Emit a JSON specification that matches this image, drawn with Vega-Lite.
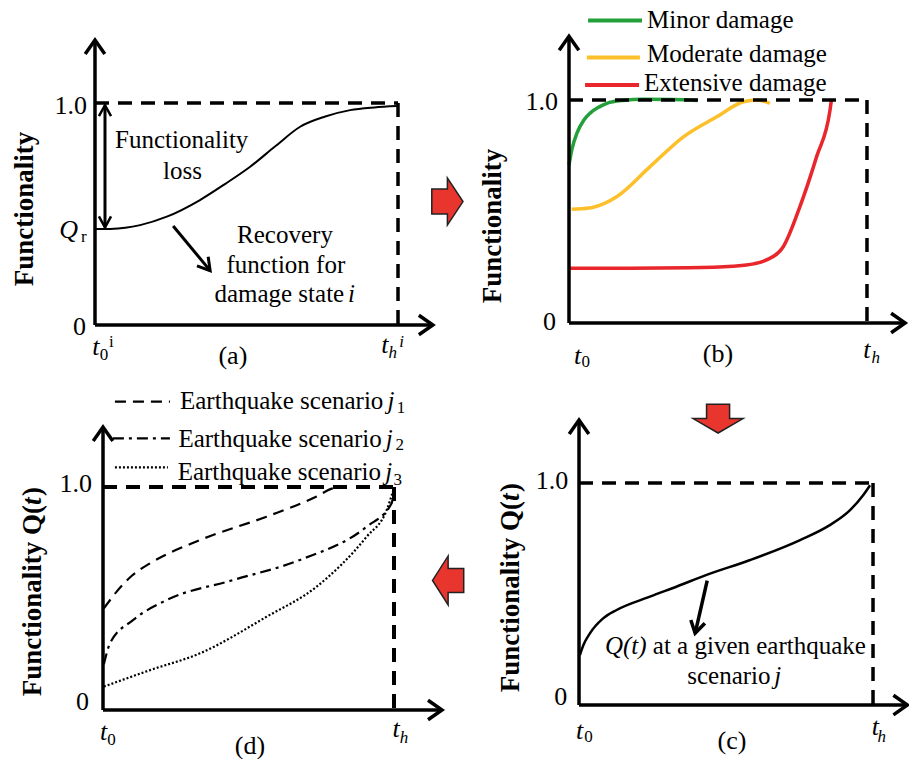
{
  "$schema": "https://vega.github.io/schema/vega-lite/v6.json",
  "padding": 0,
  "background": "white",
  "config": {"view": {"stroke": null}, "font": "Liberation Serif", "text": {"font": "Liberation Serif", "baseline": "middle", "color": "black"}},
  "datasets": {
    "curves": [
      {"panel": "a", "series": "i", "t": 0.0, "q": 0.432},
      {"panel": "a", "series": "i", "t": 0.05, "q": 0.433},
      {"panel": "a", "series": "i", "t": 0.1, "q": 0.438},
      {"panel": "a", "series": "i", "t": 0.149, "q": 0.45},
      {"panel": "a", "series": "i", "t": 0.237, "q": 0.488},
      {"panel": "a", "series": "i", "t": 0.3465, "q": 0.563},
      {"panel": "a", "series": "i", "t": 0.43, "q": 0.636},
      {"panel": "a", "series": "i", "t": 0.512, "q": 0.713},
      {"panel": "a", "series": "i", "t": 0.595, "q": 0.805},
      {"panel": "a", "series": "i", "t": 0.677, "q": 0.893},
      {"panel": "a", "series": "i", "t": 0.76, "q": 0.939},
      {"panel": "a", "series": "i", "t": 0.842, "q": 0.968},
      {"panel": "a", "series": "i", "t": 0.922, "q": 0.98},
      {"panel": "a", "series": "i", "t": 0.996, "q": 0.986},
      {"panel": "b", "series": "Minor damage", "t": 0.0, "q": 0.709},
      {"panel": "b", "series": "Minor damage", "t": 0.01, "q": 0.78},
      {"panel": "b", "series": "Minor damage", "t": 0.027, "q": 0.852},
      {"panel": "b", "series": "Minor damage", "t": 0.05, "q": 0.91},
      {"panel": "b", "series": "Minor damage", "t": 0.07, "q": 0.94},
      {"panel": "b", "series": "Minor damage", "t": 0.1, "q": 0.968},
      {"panel": "b", "series": "Minor damage", "t": 0.127, "q": 0.985},
      {"panel": "b", "series": "Minor damage", "t": 0.18, "q": 0.998},
      {"panel": "b", "series": "Minor damage", "t": 0.25, "q": 1.003},
      {"panel": "b", "series": "Minor damage", "t": 0.35, "q": 1.002},
      {"panel": "b", "series": "Minor damage", "t": 0.43, "q": 0.998},
      {"panel": "b", "series": "Moderate damage", "t": 0.009, "q": 0.51},
      {"panel": "b", "series": "Moderate damage", "t": 0.04, "q": 0.512},
      {"panel": "b", "series": "Moderate damage", "t": 0.082, "q": 0.519},
      {"panel": "b", "series": "Moderate damage", "t": 0.16, "q": 0.566},
      {"panel": "b", "series": "Moderate damage", "t": 0.272, "q": 0.701},
      {"panel": "b", "series": "Moderate damage", "t": 0.384, "q": 0.835},
      {"panel": "b", "series": "Moderate damage", "t": 0.496, "q": 0.925},
      {"panel": "b", "series": "Moderate damage", "t": 0.585, "q": 0.992},
      {"panel": "b", "series": "Moderate damage", "t": 0.63, "q": 1.0},
      {"panel": "b", "series": "Moderate damage", "t": 0.674, "q": 0.985},
      {"panel": "b", "series": "Extensive damage", "t": 0.0, "q": 0.245},
      {"panel": "b", "series": "Extensive damage", "t": 0.2, "q": 0.246},
      {"panel": "b", "series": "Extensive damage", "t": 0.4, "q": 0.248},
      {"panel": "b", "series": "Extensive damage", "t": 0.55, "q": 0.255},
      {"panel": "b", "series": "Extensive damage", "t": 0.62, "q": 0.265},
      {"panel": "b", "series": "Extensive damage", "t": 0.663, "q": 0.283},
      {"panel": "b", "series": "Extensive damage", "t": 0.719, "q": 0.342},
      {"panel": "b", "series": "Extensive damage", "t": 0.775, "q": 0.522},
      {"panel": "b", "series": "Extensive damage", "t": 0.831, "q": 0.746},
      {"panel": "b", "series": "Extensive damage", "t": 0.876, "q": 0.955},
      {"panel": "b", "series": "Extensive damage", "t": 0.881, "q": 1.003},
      {"panel": "c", "series": "j", "t": 0.003, "q": 0.225},
      {"panel": "c", "series": "j", "t": 0.015, "q": 0.27},
      {"panel": "c", "series": "j", "t": 0.037, "q": 0.323},
      {"panel": "c", "series": "j", "t": 0.08, "q": 0.388},
      {"panel": "c", "series": "j", "t": 0.128, "q": 0.428},
      {"panel": "c", "series": "j", "t": 0.241, "q": 0.488},
      {"panel": "c", "series": "j", "t": 0.335, "q": 0.535},
      {"panel": "c", "series": "j", "t": 0.434, "q": 0.586},
      {"panel": "c", "series": "j", "t": 0.582, "q": 0.653},
      {"panel": "c", "series": "j", "t": 0.752, "q": 0.743},
      {"panel": "c", "series": "j", "t": 0.85, "q": 0.808},
      {"panel": "c", "series": "j", "t": 0.922, "q": 0.878},
      {"panel": "c", "series": "j", "t": 0.967, "q": 0.946},
      {"panel": "c", "series": "j", "t": 0.99, "q": 0.99},
      {"panel": "d", "series": "j1", "t": 0.003, "q": 0.456},
      {"panel": "d", "series": "j1", "t": 0.047, "q": 0.531},
      {"panel": "d", "series": "j1", "t": 0.1, "q": 0.603},
      {"panel": "d", "series": "j1", "t": 0.162, "q": 0.658},
      {"panel": "d", "series": "j1", "t": 0.333, "q": 0.762},
      {"panel": "d", "series": "j1", "t": 0.562, "q": 0.867},
      {"panel": "d", "series": "j1", "t": 0.734, "q": 0.957},
      {"panel": "d", "series": "j1", "t": 0.79, "q": 0.994},
      {"panel": "d", "series": "j1", "t": 0.83, "q": 1.0},
      {"panel": "d", "series": "j2", "t": 0.003, "q": 0.205},
      {"panel": "d", "series": "j2", "t": 0.024, "q": 0.299},
      {"panel": "d", "series": "j2", "t": 0.104, "q": 0.404},
      {"panel": "d", "series": "j2", "t": 0.219, "q": 0.493},
      {"panel": "d", "series": "j2", "t": 0.448, "q": 0.583},
      {"panel": "d", "series": "j2", "t": 0.677, "q": 0.673},
      {"panel": "d", "series": "j2", "t": 0.906, "q": 0.822},
      {"panel": "d", "series": "j2", "t": 0.992, "q": 0.927},
      {"panel": "d", "series": "j2", "t": 0.998, "q": 0.972},
      {"panel": "d", "series": "j3", "t": 0.003, "q": 0.105},
      {"panel": "d", "series": "j3", "t": 0.162, "q": 0.179},
      {"panel": "d", "series": "j3", "t": 0.333, "q": 0.254},
      {"panel": "d", "series": "j3", "t": 0.562, "q": 0.418},
      {"panel": "d", "series": "j3", "t": 0.734, "q": 0.553},
      {"panel": "d", "series": "j3", "t": 0.906, "q": 0.777},
      {"panel": "d", "series": "j3", "t": 0.975, "q": 0.897},
      {"panel": "d", "series": "j3", "t": 0.998, "q": 0.987}
    ],
    "segs": [
      {"panel": "a", "kind": "axis", "t": 0, "q": 0, "t2": 1.115, "q2": 0},
      {"panel": "a", "kind": "axis", "t": 0, "q": 0, "t2": 0, "q2": 1.284},
      {"panel": "a", "kind": "ref", "t": 0, "q": 1, "t2": 1, "q2": 1},
      {"panel": "a", "kind": "ref", "t": 1, "q": 1, "t2": 1, "q2": 0},
      {"panel": "a", "kind": "pointer", "t": 0.033, "q": 0.44, "t2": 0.033, "q2": 0.99},
      {"panel": "a", "kind": "pointer", "t": 0.258, "q": 0.446, "t2": 0.38, "q2": 0.245},
      {"panel": "b", "kind": "axis", "t": 0, "q": 0, "t2": 1.128, "q2": 0},
      {"panel": "b", "kind": "axis", "t": 0, "q": 0, "t2": 0, "q2": 1.286},
      {"panel": "b", "kind": "ref", "t": 0, "q": 1, "t2": 1, "q2": 1},
      {"panel": "b", "kind": "ref", "t": 1, "q": 1, "t2": 1, "q2": 0},
      {"panel": "b", "kind": "legend", "series": "Minor damage", "t": 0.064, "q": 1.356, "t2": 0.245, "q2": 1.356},
      {"panel": "b", "kind": "legend", "series": "Moderate damage", "t": 0.06, "q": 1.191, "t2": 0.238, "q2": 1.191},
      {"panel": "b", "kind": "legend", "series": "Extensive damage", "t": 0.054, "q": 1.067, "t2": 0.235, "q2": 1.067},
      {"panel": "c", "kind": "axis", "t": 0, "q": 0, "t2": 1.117, "q2": 0},
      {"panel": "c", "kind": "axis", "t": 0, "q": 0, "t2": 0, "q2": 1.284},
      {"panel": "c", "kind": "ref", "t": 0, "q": 1, "t2": 1, "q2": 1},
      {"panel": "c", "kind": "ref", "t": 1, "q": 1, "t2": 1, "q2": 0},
      {"panel": "c", "kind": "pointer", "t": 0.436, "q": 0.56, "t2": 0.395, "q2": 0.323},
      {"panel": "d", "kind": "axis", "t": 0, "q": 0, "t2": 1.165, "q2": 0},
      {"panel": "d", "kind": "axis", "t": 0, "q": 0, "t2": 0, "q2": 1.269},
      {"panel": "d", "kind": "ref", "t": 0, "q": 1, "t2": 1, "q2": 1},
      {"panel": "d", "kind": "ref", "t": 1, "q": 1, "t2": 1, "q2": 0},
      {"panel": "d", "kind": "legend", "series": "j1", "t": 0.041, "q": 1.383, "t2": 0.23, "q2": 1.383},
      {"panel": "d", "kind": "legend", "series": "j2", "t": 0.034, "q": 1.218, "t2": 0.23, "q2": 1.218},
      {"panel": "d", "kind": "legend", "series": "j3", "t": 0.041, "q": 1.088, "t2": 0.223, "q2": 1.088}
    ],
    "heads": [
      {"panel": "a", "kind": "axis", "dir": "right", "t": 1.115, "q": 0},
      {"panel": "a", "kind": "axis", "dir": "up", "t": 0, "q": 1.284},
      {"panel": "a", "kind": "pointer", "dir": "up", "t": 0.033, "q": 0.99},
      {"panel": "a", "kind": "pointer", "dir": "down", "t": 0.033, "q": 0.44},
      {"panel": "a", "kind": "oblique", "dir": "down-right", "t": 0.38, "q": 0.245},
      {"panel": "b", "kind": "axis", "dir": "right", "t": 1.128, "q": 0},
      {"panel": "b", "kind": "axis", "dir": "up", "t": 0, "q": 1.286},
      {"panel": "c", "kind": "axis", "dir": "right", "t": 1.117, "q": 0},
      {"panel": "c", "kind": "axis", "dir": "up", "t": 0, "q": 1.284},
      {"panel": "c", "kind": "oblique", "dir": "down", "t": 0.395, "q": 0.323},
      {"panel": "d", "kind": "axis", "dir": "right", "t": 1.165, "q": 0},
      {"panel": "d", "kind": "axis", "dir": "up", "t": 0, "q": 1.269}
    ],
    "blocks": [
      {"panel": "a", "dir": "right", "t": 1.163, "q": 0.556},
      {"panel": "c", "dir": "down", "t": 0.473, "q": 1.29},
      {"panel": "d", "dir": "left", "t": 1.186, "q": 0.581}
    ],
    "labels": [
      {"panel": "a", "role": "tick", "text": "1.0", "t": -0.026, "q": 0.988},
      {"panel": "a", "role": "tick", "text": "0", "t": -0.03, "q": -0.01},
      {"panel": "a", "role": "var", "text": "Q", "t": -0.087, "q": 0.43},
      {"panel": "a", "role": "sub", "text": "r", "t": -0.037, "q": 0.398},
      {"panel": "a", "role": "var", "text": "t", "t": 0.003, "q": -0.1},
      {"panel": "a", "role": "sub", "text": "0", "t": 0.03, "q": -0.135},
      {"panel": "a", "role": "sub", "text": "i", "t": 0.054, "q": -0.075},
      {"panel": "a", "role": "var", "text": "t", "t": 0.957, "q": -0.091},
      {"panel": "a", "role": "subi", "text": "h", "t": 0.983, "q": -0.127},
      {"panel": "a", "role": "subi", "text": "i", "t": 1.012, "q": -0.075},
      {"panel": "a", "role": "panel", "text": "(a)", "t": 0.455, "q": -0.138},
      {"panel": "a", "role": "title", "text": "Functionality", "t": -0.231, "q": 0.523},
      {"panel": "a", "role": "note", "text": "Functionality", "t": 0.286, "q": 0.834},
      {"panel": "a", "role": "note", "text": "loss", "t": 0.289, "q": 0.695},
      {"panel": "a", "role": "note", "text": "Recovery", "t": 0.627, "q": 0.406},
      {"panel": "a", "role": "note", "text": "function for", "t": 0.63, "q": 0.269},
      {"panel": "a", "role": "noteL", "text": "damage state", "t": 0.394, "q": 0.139},
      {"panel": "a", "role": "noteI", "text": "i", "t": 0.835, "q": 0.139},
      {"panel": "b", "role": "tick", "text": "1.0", "t": -0.037, "q": 0.99},
      {"panel": "b", "role": "tick", "text": "0", "t": -0.044, "q": 0.004},
      {"panel": "b", "role": "var", "text": "t", "t": 0.029, "q": -0.146},
      {"panel": "b", "role": "sub", "text": "0", "t": 0.056, "q": -0.173},
      {"panel": "b", "role": "var", "text": "t", "t": 1.0, "q": -0.123},
      {"panel": "b", "role": "subi", "text": "h", "t": 1.029, "q": -0.158},
      {"panel": "b", "role": "panel", "text": "(b)", "t": 0.5, "q": -0.14},
      {"panel": "b", "role": "title", "text": "Functionality", "t": -0.255, "q": 0.435},
      {"panel": "b", "role": "noteL", "text": "Minor damage", "t": 0.262, "q": 1.36},
      {"panel": "b", "role": "noteL", "text": "Moderate damage", "t": 0.262, "q": 1.205},
      {"panel": "b", "role": "noteL", "text": "Extensive damage", "t": 0.252, "q": 1.075},
      {"panel": "c", "role": "tick", "text": "1.0", "t": -0.037, "q": 1.011},
      {"panel": "c", "role": "tick", "text": "0", "t": -0.04, "q": 0.036},
      {"panel": "c", "role": "var", "text": "t", "t": 0.002, "q": -0.115},
      {"panel": "c", "role": "sub", "text": "0", "t": 0.032, "q": -0.142},
      {"panel": "c", "role": "var", "text": "t", "t": 1.008, "q": -0.1},
      {"panel": "c", "role": "subi", "text": "h", "t": 1.03, "q": -0.142},
      {"panel": "c", "role": "panel", "text": "(c)", "t": 0.52, "q": -0.161},
      {"panel": "c", "role": "titleL", "text": "Functionality Q(", "t": -0.231, "q": 0.0574},
      {"panel": "c", "role": "titleI", "text": "t", "t": -0.231, "q": 0.919},
      {"panel": "c", "role": "titleL", "text": ")", "t": -0.231, "q": 0.96},
      {"panel": "c", "role": "noteI", "text": "Q(t)", "t": 0.088, "q": 0.267},
      {"panel": "c", "role": "noteL", "text": "at a given earthquake", "t": 0.251, "q": 0.267},
      {"panel": "c", "role": "noteL", "text": "scenario", "t": 0.368, "q": 0.132},
      {"panel": "c", "role": "noteI", "text": "j", "t": 0.664, "q": 0.132},
      {"panel": "d", "role": "tick", "text": "1.0", "t": -0.038, "q": 1.014},
      {"panel": "d", "role": "tick", "text": "0", "t": -0.048, "q": 0.036},
      {"panel": "d", "role": "var", "text": "t", "t": 0.002, "q": -0.1},
      {"panel": "d", "role": "sub", "text": "0", "t": 0.029, "q": -0.134},
      {"panel": "d", "role": "var", "text": "t", "t": 1.007, "q": -0.085},
      {"panel": "d", "role": "subi", "text": "h", "t": 1.034, "q": -0.127},
      {"panel": "d", "role": "panel", "text": "(d)", "t": 0.505, "q": -0.161},
      {"panel": "d", "role": "titleL", "text": "Functionality Q(", "t": -0.241, "q": 0.0615},
      {"panel": "d", "role": "titleI", "text": "t", "t": -0.241, "q": 0.919},
      {"panel": "d", "role": "titleL", "text": ")", "t": -0.241, "q": 0.96},
      {"panel": "d", "role": "noteL", "text": "Earthquake scenario", "t": 0.2646, "q": 1.387},
      {"panel": "d", "role": "noteL", "text": "Earthquake scenario", "t": 0.259, "q": 1.217},
      {"panel": "d", "role": "noteL", "text": "Earthquake scenario", "t": 0.2566, "q": 1.068},
      {"panel": "d", "role": "noteI", "text": "j", "t": 0.978, "q": 1.387},
      {"panel": "d", "role": "noteI", "text": "j", "t": 0.972, "q": 1.217},
      {"panel": "d", "role": "noteI", "text": "j", "t": 0.97, "q": 1.068},
      {"panel": "d", "role": "sub", "text": "1", "t": 1.024, "q": 1.354},
      {"panel": "d", "role": "sub", "text": "2", "t": 1.02, "q": 1.188},
      {"panel": "d", "role": "sub", "text": "3", "t": 1.013, "q": 1.031}
    ]
  },
  "columns": 2,
  "spacing": 0,
  "bounds": "flush",
  "resolve": {"scale": {"x": "independent", "y": "independent", "color": "independent", "strokeDash": "independent", "shape": "independent"}},
  "concat": [
    {
      "width": 465,
      "height": 375,
      "encoding": {
        "x": {"field": "t", "type": "quantitative", "scale": {"domain": [-0.3135, 1.2211], "nice": false, "zero": false}, "axis": null},
        "y": {"field": "q", "type": "quantitative", "scale": {"domain": [-0.2252, 1.464], "nice": false, "zero": false}, "axis": null}
      },
      "resolve": {"scale": {"shape": "independent"}},
      "layer": [
        {"data": {"name": "curves"}, "transform": [{"filter": "datum.panel === 'a'"}], "mark": {"type": "line", "color": "black", "strokeWidth": 2, "interpolate": "monotone"}},
        {"data": {"name": "segs"}, "transform": [{"filter": "datum.panel === 'a' && datum.kind === 'ref'"}], "mark": {"type": "rule", "color": "black", "strokeWidth": 3.5, "strokeDash": [14, 9]}, "encoding": {"x2": {"field": "t2"}, "y2": {"field": "q2"}}},
        {"data": {"name": "segs"}, "transform": [{"filter": "datum.panel === 'a' && datum.kind === 'axis'"}], "mark": {"type": "rule", "color": "black", "strokeWidth": 3.5}, "encoding": {"x2": {"field": "t2"}, "y2": {"field": "q2"}}},
        {"data": {"name": "segs"}, "transform": [{"filter": "datum.panel === 'a' && datum.kind === 'pointer'"}], "mark": {"type": "rule", "color": "black", "strokeWidth": 3}, "encoding": {"x2": {"field": "t2"}, "y2": {"field": "q2"}}},
        {"data": {"name": "heads"}, "transform": [{"filter": "datum.panel === 'a' && datum.kind === 'axis'"}], "mark": {"type": "point", "filled": false, "color": "black", "strokeWidth": 3.5, "size": 784, "opacity": 1}, "encoding": {"shape": {"field": "dir", "type": "nominal", "scale": {"domain": ["right", "up"], "range": ["M-1,-0.7L0,0L-1,0.7", "M-0.7,1L0,0L0.7,1"]}, "legend": null}}},
        {"data": {"name": "heads"}, "transform": [{"filter": "datum.panel === 'a' && datum.kind === 'pointer'"}], "mark": {"type": "point", "filled": false, "color": "black", "strokeWidth": 2.5, "size": 484, "opacity": 1}, "encoding": {"shape": {"field": "dir", "type": "nominal", "scale": {"domain": ["up", "down"], "range": ["M-0.55,1L0,0L0.55,1", "M-0.55,-1L0,0L0.55,-1"]}, "legend": null}}},
        {"data": {"name": "heads"}, "transform": [{"filter": "datum.panel === 'a' && datum.kind === 'oblique'"}], "mark": {"type": "point", "filled": false, "color": "black", "strokeWidth": 3, "size": 576, "opacity": 1, "shape": "M-1,-0.6L0,0L-1,0.6", "angle": 51}},
        {"data": {"name": "blocks"}, "transform": [{"filter": "datum.panel === 'a'"}], "mark": {"type": "point", "filled": true, "fill": "#e8352d", "stroke": "#222222", "strokeWidth": 1.5, "size": 2304, "opacity": 1, "shape": "M-0.65,-0.52L0,-0.52L0,-0.98L0.65,0L0,0.98L0,0.52L-0.65,0.52Z"}},
        {"data": {"name": "labels"}, "transform": [{"filter": "datum.panel === 'a' && datum.role === 'tick'"}], "mark": {"type": "text", "fontSize": 26, "align": "right"}, "encoding": {"text": {"field": "text"}}},
        {"data": {"name": "labels"}, "transform": [{"filter": "datum.panel === 'a' && datum.role === 'var'"}], "mark": {"type": "text", "fontSize": 26, "fontStyle": "italic", "align": "center"}, "encoding": {"text": {"field": "text"}}},
        {"data": {"name": "labels"}, "transform": [{"filter": "datum.panel === 'a' && datum.role === 'sub'"}], "mark": {"type": "text", "fontSize": 17, "align": "center"}, "encoding": {"text": {"field": "text"}}},
        {"data": {"name": "labels"}, "transform": [{"filter": "datum.panel === 'a' && datum.role === 'subi'"}], "mark": {"type": "text", "fontSize": 17, "fontStyle": "italic", "align": "center"}, "encoding": {"text": {"field": "text"}}},
        {"data": {"name": "labels"}, "transform": [{"filter": "datum.panel === 'a' && datum.role === 'panel'"}], "mark": {"type": "text", "fontSize": 26, "align": "center"}, "encoding": {"text": {"field": "text"}}},
        {"data": {"name": "labels"}, "transform": [{"filter": "datum.panel === 'a' && datum.role === 'title'"}], "mark": {"type": "text", "fontSize": 27, "fontWeight": "bold", "align": "center", "angle": 270}, "encoding": {"text": {"field": "text"}}},
        {"data": {"name": "labels"}, "transform": [{"filter": "datum.panel === 'a' && datum.role === 'note'"}], "mark": {"type": "text", "fontSize": 25, "align": "center"}, "encoding": {"text": {"field": "text"}}},
        {"data": {"name": "labels"}, "transform": [{"filter": "datum.panel === 'a' && datum.role === 'noteL'"}], "mark": {"type": "text", "fontSize": 25, "align": "left"}, "encoding": {"text": {"field": "text"}}},
        {"data": {"name": "labels"}, "transform": [{"filter": "datum.panel === 'a' && datum.role === 'noteI'"}], "mark": {"type": "text", "fontSize": 25, "fontStyle": "italic", "align": "left"}, "encoding": {"text": {"field": "text"}}}
      ]
    },
    {
      "width": 444,
      "height": 375,
      "encoding": {
        "x": {"field": "t", "type": "quantitative", "scale": {"domain": [-0.349, 1.141], "nice": false, "zero": false}, "axis": null},
        "y": {"field": "q", "type": "quantitative", "scale": {"domain": [-0.2332, 1.4484], "nice": false, "zero": false}, "axis": null}
      },
      "resolve": {"scale": {"shape": "independent"}},
      "layer": [
        {"data": {"name": "curves"}, "transform": [{"filter": "datum.panel === 'b'"}], "mark": {"type": "line", "strokeWidth": 3.5, "interpolate": "monotone"}, "encoding": {"color": {"field": "series", "type": "nominal", "scale": {"domain": ["Minor damage", "Moderate damage", "Extensive damage"], "range": ["#23a03a", "#fdbf2a", "#e8262b"]}, "legend": null}}},
        {"data": {"name": "segs"}, "transform": [{"filter": "datum.panel === 'b' && datum.kind === 'legend'"}], "mark": {"type": "rule", "strokeWidth": 4}, "encoding": {"x2": {"field": "t2"}, "y2": {"field": "q2"}, "color": {"field": "series", "type": "nominal", "scale": {"domain": ["Minor damage", "Moderate damage", "Extensive damage"], "range": ["#23a03a", "#fdbf2a", "#e8262b"]}, "legend": null}}},
        {"data": {"name": "segs"}, "transform": [{"filter": "datum.panel === 'b' && datum.kind === 'ref'"}], "mark": {"type": "rule", "color": "black", "strokeWidth": 3.5, "strokeDash": [14, 9]}, "encoding": {"x2": {"field": "t2"}, "y2": {"field": "q2"}}},
        {"data": {"name": "segs"}, "transform": [{"filter": "datum.panel === 'b' && datum.kind === 'axis'"}], "mark": {"type": "rule", "color": "black", "strokeWidth": 3.5}, "encoding": {"x2": {"field": "t2"}, "y2": {"field": "q2"}}},
        {"data": {"name": "heads"}, "transform": [{"filter": "datum.panel === 'b' && datum.kind === 'axis'"}], "mark": {"type": "point", "filled": false, "color": "black", "strokeWidth": 3.5, "size": 784, "opacity": 1}, "encoding": {"shape": {"field": "dir", "type": "nominal", "scale": {"domain": ["right", "up"], "range": ["M-1,-0.7L0,0L-1,0.7", "M-0.7,1L0,0L0.7,1"]}, "legend": null}}},
        {"data": {"name": "labels"}, "transform": [{"filter": "datum.panel === 'b' && datum.role === 'tick'"}], "mark": {"type": "text", "fontSize": 26, "align": "right"}, "encoding": {"text": {"field": "text"}}},
        {"data": {"name": "labels"}, "transform": [{"filter": "datum.panel === 'b' && datum.role === 'var'"}], "mark": {"type": "text", "fontSize": 26, "fontStyle": "italic", "align": "center"}, "encoding": {"text": {"field": "text"}}},
        {"data": {"name": "labels"}, "transform": [{"filter": "datum.panel === 'b' && datum.role === 'sub'"}], "mark": {"type": "text", "fontSize": 17, "align": "center"}, "encoding": {"text": {"field": "text"}}},
        {"data": {"name": "labels"}, "transform": [{"filter": "datum.panel === 'b' && datum.role === 'subi'"}], "mark": {"type": "text", "fontSize": 17, "fontStyle": "italic", "align": "center"}, "encoding": {"text": {"field": "text"}}},
        {"data": {"name": "labels"}, "transform": [{"filter": "datum.panel === 'b' && datum.role === 'panel'"}], "mark": {"type": "text", "fontSize": 26, "align": "center"}, "encoding": {"text": {"field": "text"}}},
        {"data": {"name": "labels"}, "transform": [{"filter": "datum.panel === 'b' && datum.role === 'title'"}], "mark": {"type": "text", "fontSize": 27, "fontWeight": "bold", "align": "center", "angle": 270}, "encoding": {"text": {"field": "text"}}},
        {"data": {"name": "labels"}, "transform": [{"filter": "datum.panel === 'b' && datum.role === 'noteL'"}], "mark": {"type": "text", "fontSize": 25, "align": "left"}, "encoding": {"text": {"field": "text"}}}
      ]
    },
    {
      "width": 465,
      "height": 384,
      "encoding": {
        "x": {"field": "t", "type": "quantitative", "scale": {"domain": [-0.354, 1.244], "nice": false, "zero": false}, "axis": null},
        "y": {"field": "q", "type": "quantitative", "scale": {"domain": [-0.2197, 1.5022], "nice": false, "zero": false}, "axis": null}
      },
      "resolve": {"scale": {"shape": "independent"}},
      "layer": [
        {"data": {"name": "curves"}, "transform": [{"filter": "datum.panel === 'd'"}], "mark": {"type": "line", "color": "black", "strokeWidth": 2.2, "interpolate": "monotone"}, "encoding": {"strokeDash": {"field": "series", "type": "nominal", "scale": {"domain": ["j1", "j2", "j3"], "range": [[11, 7], [11, 5, 3, 5], [2, 2]]}, "legend": null}}},
        {"data": {"name": "segs"}, "transform": [{"filter": "datum.panel === 'd' && datum.kind === 'legend'"}], "mark": {"type": "rule", "color": "black", "strokeWidth": 2.2}, "encoding": {"x2": {"field": "t2"}, "y2": {"field": "q2"}, "strokeDash": {"field": "series", "type": "nominal", "scale": {"domain": ["j1", "j2", "j3"], "range": [[11, 7], [11, 5, 3, 5], [2, 2]]}, "legend": null}}},
        {"data": {"name": "segs"}, "transform": [{"filter": "datum.panel === 'd' && datum.kind === 'ref'"}], "mark": {"type": "rule", "color": "black", "strokeWidth": 4, "strokeDash": [14, 9]}, "encoding": {"x2": {"field": "t2"}, "y2": {"field": "q2"}}},
        {"data": {"name": "segs"}, "transform": [{"filter": "datum.panel === 'd' && datum.kind === 'axis'"}], "mark": {"type": "rule", "color": "black", "strokeWidth": 3.5}, "encoding": {"x2": {"field": "t2"}, "y2": {"field": "q2"}}},
        {"data": {"name": "heads"}, "transform": [{"filter": "datum.panel === 'd' && datum.kind === 'axis'"}], "mark": {"type": "point", "filled": false, "color": "black", "strokeWidth": 3.5, "size": 784, "opacity": 1}, "encoding": {"shape": {"field": "dir", "type": "nominal", "scale": {"domain": ["right", "up"], "range": ["M-1,-0.7L0,0L-1,0.7", "M-0.7,1L0,0L0.7,1"]}, "legend": null}}},
        {"data": {"name": "blocks"}, "transform": [{"filter": "datum.panel === 'd'"}], "mark": {"type": "point", "filled": true, "fill": "#e8352d", "stroke": "#222222", "strokeWidth": 1.5, "size": 2304, "opacity": 1, "shape": "M0.65,-0.5L0,-0.5L0,-1.02L-0.65,0L0,1.02L0,0.5L0.65,0.5Z"}},
        {"data": {"name": "labels"}, "transform": [{"filter": "datum.panel === 'd' && datum.role === 'tick'"}], "mark": {"type": "text", "fontSize": 26, "align": "right"}, "encoding": {"text": {"field": "text"}}},
        {"data": {"name": "labels"}, "transform": [{"filter": "datum.panel === 'd' && datum.role === 'var'"}], "mark": {"type": "text", "fontSize": 26, "fontStyle": "italic", "align": "center"}, "encoding": {"text": {"field": "text"}}},
        {"data": {"name": "labels"}, "transform": [{"filter": "datum.panel === 'd' && datum.role === 'sub'"}], "mark": {"type": "text", "fontSize": 17, "align": "center"}, "encoding": {"text": {"field": "text"}}},
        {"data": {"name": "labels"}, "transform": [{"filter": "datum.panel === 'd' && datum.role === 'subi'"}], "mark": {"type": "text", "fontSize": 17, "fontStyle": "italic", "align": "center"}, "encoding": {"text": {"field": "text"}}},
        {"data": {"name": "labels"}, "transform": [{"filter": "datum.panel === 'd' && datum.role === 'panel'"}], "mark": {"type": "text", "fontSize": 26, "align": "center"}, "encoding": {"text": {"field": "text"}}},
        {"data": {"name": "labels"}, "transform": [{"filter": "datum.panel === 'd' && datum.role === 'titleL'"}], "mark": {"type": "text", "fontSize": 27, "fontWeight": "bold", "align": "left", "angle": 270}, "encoding": {"text": {"field": "text"}}},
        {"data": {"name": "labels"}, "transform": [{"filter": "datum.panel === 'd' && datum.role === 'titleI'"}], "mark": {"type": "text", "fontSize": 27, "fontWeight": "bold", "fontStyle": "italic", "align": "left", "angle": 270}, "encoding": {"text": {"field": "text"}}},
        {"data": {"name": "labels"}, "transform": [{"filter": "datum.panel === 'd' && datum.role === 'noteL'"}], "mark": {"type": "text", "fontSize": 25, "align": "left"}, "encoding": {"text": {"field": "text"}}},
        {"data": {"name": "labels"}, "transform": [{"filter": "datum.panel === 'd' && datum.role === 'noteI'"}], "mark": {"type": "text", "fontSize": 25, "fontStyle": "italic", "align": "left"}, "encoding": {"text": {"field": "text"}}}
      ]
    },
    {
      "width": 444,
      "height": 384,
      "encoding": {
        "x": {"field": "t", "type": "quantitative", "scale": {"domain": [-0.3878, 1.1224], "nice": false, "zero": false}, "axis": null},
        "y": {"field": "q", "type": "quantitative", "scale": {"domain": [-0.2432, 1.4865], "nice": false, "zero": false}, "axis": null}
      },
      "resolve": {"scale": {"shape": "independent"}},
      "layer": [
        {"data": {"name": "curves"}, "transform": [{"filter": "datum.panel === 'c'"}], "mark": {"type": "line", "color": "black", "strokeWidth": 2.5, "interpolate": "monotone"}},
        {"data": {"name": "segs"}, "transform": [{"filter": "datum.panel === 'c' && datum.kind === 'ref'"}], "mark": {"type": "rule", "color": "black", "strokeWidth": 3.5, "strokeDash": [14, 9]}, "encoding": {"x2": {"field": "t2"}, "y2": {"field": "q2"}}},
        {"data": {"name": "segs"}, "transform": [{"filter": "datum.panel === 'c' && datum.kind === 'axis'"}], "mark": {"type": "rule", "color": "black", "strokeWidth": 3.5}, "encoding": {"x2": {"field": "t2"}, "y2": {"field": "q2"}}},
        {"data": {"name": "segs"}, "transform": [{"filter": "datum.panel === 'c' && datum.kind === 'pointer'"}], "mark": {"type": "rule", "color": "black", "strokeWidth": 3.5}, "encoding": {"x2": {"field": "t2"}, "y2": {"field": "q2"}}},
        {"data": {"name": "heads"}, "transform": [{"filter": "datum.panel === 'c' && datum.kind === 'axis'"}], "mark": {"type": "point", "filled": false, "color": "black", "strokeWidth": 3.5, "size": 784, "opacity": 1}, "encoding": {"shape": {"field": "dir", "type": "nominal", "scale": {"domain": ["right", "up"], "range": ["M-1,-0.7L0,0L-1,0.7", "M-0.7,1L0,0L0.7,1"]}, "legend": null}}},
        {"data": {"name": "heads"}, "transform": [{"filter": "datum.panel === 'c' && datum.kind === 'oblique'"}], "mark": {"type": "point", "filled": false, "color": "black", "strokeWidth": 3.5, "size": 576, "opacity": 1, "shape": "M-1,-0.6L0,0L-1,0.6", "angle": 103}},
        {"data": {"name": "blocks"}, "transform": [{"filter": "datum.panel === 'c'"}], "mark": {"type": "point", "filled": true, "fill": "#e8352d", "stroke": "#222222", "strokeWidth": 1.5, "size": 2304, "opacity": 1, "shape": "M-0.48,-0.6L0.48,-0.6L0.48,0L1.04,0L0,0.6L-1.04,0L-0.48,0Z"}},
        {"data": {"name": "labels"}, "transform": [{"filter": "datum.panel === 'c' && datum.role === 'tick'"}], "mark": {"type": "text", "fontSize": 26, "align": "right"}, "encoding": {"text": {"field": "text"}}},
        {"data": {"name": "labels"}, "transform": [{"filter": "datum.panel === 'c' && datum.role === 'var'"}], "mark": {"type": "text", "fontSize": 26, "fontStyle": "italic", "align": "center"}, "encoding": {"text": {"field": "text"}}},
        {"data": {"name": "labels"}, "transform": [{"filter": "datum.panel === 'c' && datum.role === 'sub'"}], "mark": {"type": "text", "fontSize": 17, "align": "center"}, "encoding": {"text": {"field": "text"}}},
        {"data": {"name": "labels"}, "transform": [{"filter": "datum.panel === 'c' && datum.role === 'subi'"}], "mark": {"type": "text", "fontSize": 17, "fontStyle": "italic", "align": "center"}, "encoding": {"text": {"field": "text"}}},
        {"data": {"name": "labels"}, "transform": [{"filter": "datum.panel === 'c' && datum.role === 'panel'"}], "mark": {"type": "text", "fontSize": 26, "align": "center"}, "encoding": {"text": {"field": "text"}}},
        {"data": {"name": "labels"}, "transform": [{"filter": "datum.panel === 'c' && datum.role === 'titleL'"}], "mark": {"type": "text", "fontSize": 27, "fontWeight": "bold", "align": "left", "angle": 270}, "encoding": {"text": {"field": "text"}}},
        {"data": {"name": "labels"}, "transform": [{"filter": "datum.panel === 'c' && datum.role === 'titleI'"}], "mark": {"type": "text", "fontSize": 27, "fontWeight": "bold", "fontStyle": "italic", "align": "left", "angle": 270}, "encoding": {"text": {"field": "text"}}},
        {"data": {"name": "labels"}, "transform": [{"filter": "datum.panel === 'c' && datum.role === 'noteL'"}], "mark": {"type": "text", "fontSize": 25, "align": "left"}, "encoding": {"text": {"field": "text"}}},
        {"data": {"name": "labels"}, "transform": [{"filter": "datum.panel === 'c' && datum.role === 'noteI'"}], "mark": {"type": "text", "fontSize": 25, "fontStyle": "italic", "align": "left"}, "encoding": {"text": {"field": "text"}}}
      ]
    }
  ]
}
